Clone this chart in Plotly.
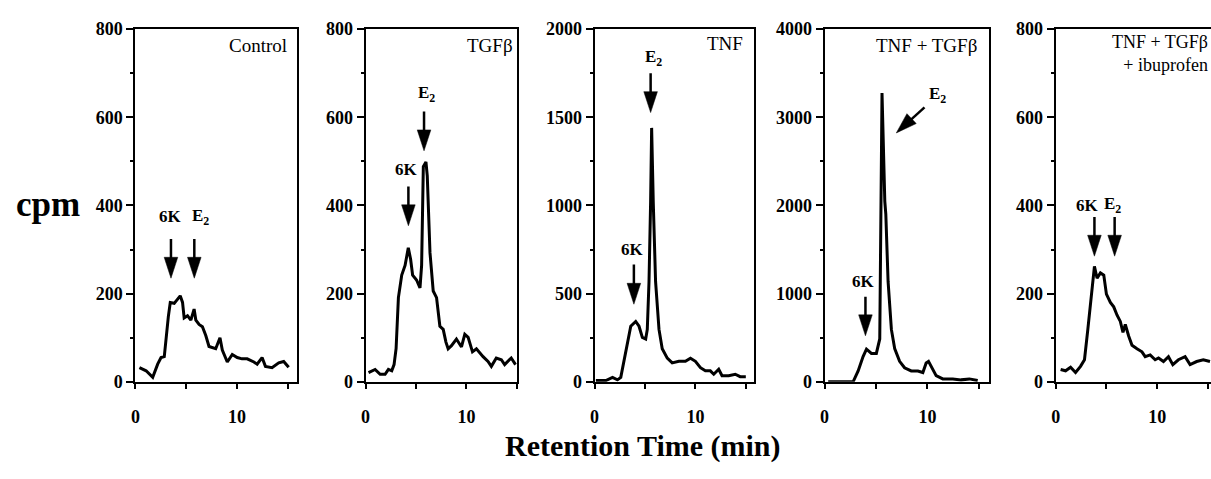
import plotly.graph_objects as go

# ---------------- data (retention time in min, radioactivity in cpm) ----------------
ctrl_t = [0.39, 1.05, 1.7, 2.19, 2.52, 2.84, 3.24, 3.43, 3.82, 4.05, 4.41, 4.64, 4.8, 5.13,
          5.46, 5.78, 5.95, 6.27, 6.6, 6.93, 7.25, 7.91, 8.33, 8.56, 9.05, 9.54, 10.03, 10.5,
          11.01, 11.67, 11.99, 12.48, 12.81, 13.46, 14.12, 14.61, 15.1]
ctrl_cpm = [32, 25, 10, 40, 55, 57, 148, 180, 178, 185, 195, 180, 145, 150,
            140, 165, 140, 130, 125, 105, 80, 75, 100, 72, 45, 62, 55, 52,
            52, 45, 40, 55, 35, 32, 43, 46, 33]

tgf_t = [0.3, 0.95, 1.45, 1.94, 2.27, 2.6, 2.83, 3.03, 3.26, 3.59, 3.92, 4.24, 4.47, 4.67,
         5.06, 5.4, 5.56, 5.73, 5.99, 6.12, 6.39, 6.71, 7.04, 7.37, 7.7, 7.97, 8.19, 8.52,
         9.01, 9.51, 9.84, 10.17, 10.6, 10.99, 11.65, 12.14, 12.47, 12.96, 13.46, 13.79,
         14.44, 14.87]
tgf_cpm = [21, 28, 17, 17, 28, 25, 39, 75, 191, 242, 264, 304, 278, 242,
           231, 213, 264, 488, 499, 467, 293, 206, 191, 126, 119, 90, 75, 82,
           97, 79, 108, 101, 68, 75, 57, 46, 35, 54, 50, 39,
           54, 39]

tnf_t = [0.13, 1.12, 1.78, 2.27, 2.6, 2.93, 3.26, 3.59, 4.08, 4.41, 4.74, 5.07, 5.23, 5.4,
         5.56, 5.66, 5.82, 6.05, 6.39, 6.71, 7.21, 7.7, 8.36, 9.01, 9.51, 10.0, 10.5, 10.99,
         11.48, 11.82, 12.31, 12.64, 13.3, 13.95, 14.44, 15.0]
tnf_cpm = [7, 7, 25, 11, 25, 116, 225, 315, 342, 315, 252, 243, 297, 569,
           1022, 1440, 1022, 569, 297, 188, 134, 107, 116, 116, 134, 116, 80, 62,
           62, 43, 71, 34, 34, 43, 29, 29]

combo_t = [0.35, 2.77, 3.26, 3.74, 4.07, 4.55, 5.03, 5.36, 5.58, 5.75, 5.85, 5.95, 6.17,
           6.49, 6.81, 7.29, 7.77, 8.42, 9.07, 9.55, 9.87, 10.1, 10.42, 10.84, 11.49, 12.46,
           13.26, 14.07, 14.88]
combo_cpm = [0, 0, 123, 286, 370, 322, 322, 486, 3275, 2300, 2050, 1900, 1138,
             594, 377, 232, 159, 123, 123, 105, 214, 232, 159, 69, 33, 33,
             22, 33, 14]

ibu_t = [0.49, 0.98, 1.47, 1.96, 2.45, 2.84, 3.17, 3.5, 3.82, 4.08, 4.41, 4.74, 5.0, 5.39,
         5.72, 6.05, 6.37, 6.63, 6.86, 7.19, 7.52, 8.01, 8.5, 8.82, 9.31, 9.8, 10.13, 10.62,
         11.11, 11.54, 12.09, 12.75, 13.24, 13.89, 14.54, 15.2]
ibu_cpm = [28, 25, 33, 21, 35, 50, 119, 191, 262, 235, 247, 242, 199, 180,
           170, 151, 137, 112, 130, 104, 83, 75, 68, 57, 61, 50, 54, 46,
           57, 39, 50, 57, 39, 46, 50, 46]

panel_titles = ["Control", "TGFβ", "TNF", "TNF + TGFβ", "TNF + TGFβ<br>+ ibuprofen"]
y_max = [800, 800, 2000, 4000, 800]
y_step = [200, 200, 500, 1000, 200]

# peak markers: (label, tail_x, tail_y, tip_x, tip_y, label_x, label_y)
peaks = [
    [("6K", 3.5, 324, 3.5, 235, 3.43, 374), ("E<sub>2</sub>", 5.8, 324, 5.8, 235, 5.35, 374)],
    [("6K", 4.25, 443, 4.25, 354, 4.02, 481), ("E<sub>2</sub>", 5.8, 613, 5.8, 524, 5.02, 652)],
    [("6K", 3.9, 665, 3.9, 440, 3.75, 750), ("E<sub>2</sub>", 5.56, 1750, 5.56, 1527, 4.85, 1837)],
    [("6K", 3.97, 965, 3.97, 522, 3.75, 1138), ("E<sub>2</sub>", 9.71, 3112, 6.97, 2823, 10.0, 3258)],
    [("6K", 3.82, 374, 3.82, 285, 3.1, 401), ("E<sub>2</sub>", 5.81, 374, 5.81, 285, 4.55, 401)],
]

series = [(ctrl_t, ctrl_cpm), (tgf_t, tgf_cpm), (tnf_t, tnf_cpm), (combo_t, combo_cpm), (ibu_t, ibu_cpm)]

# ---------------- layout geometry ----------------
W, H = 1211, 479
x_dom_px = [(131, 293), (362, 514), (592, 752), (823, 988), (1055, 1211)]
x_rng = [15.9, 15.0, 15.8, 15.97, 15.3]
y_dom = [1 - 388 / H, 1 - 20 / H]

FONT = "Liberation Serif"
fig = go.Figure()
layout = dict(
    width=W, height=H, margin=dict(l=0, r=0, t=0, b=0),
    paper_bgcolor="white", plot_bgcolor="white", showlegend=False,
    font=dict(family=FONT, color="black"),
)
annotations = []

title_pos = [(0.95, 0.99), (0.985, 0.988), (0.945, 0.995), (0.94, 0.99), (0.995, 0.997)]
title_size = [19, 19, 19, 19, 18]

for i in range(5):
    n = "" if i == 0 else str(i + 1)
    xa, ya = "x" + n, "y" + n
    t, c = series[i]
    fig.add_trace(go.Scatter(x=t, y=c, mode="lines", xaxis=xa, yaxis=ya,
                             line=dict(color="black", width=3), hoverinfo="skip"))
    for (lab, tx, ty, hx, hy, lx, ly) in peaks[i]:
        fig.add_trace(go.Scatter(
            x=[tx, hx], y=[ty, hy], mode="lines+markers", xaxis=xa, yaxis=ya,
            opacity=1,
            line=dict(color="black", width=2.5, backoff=9),
            marker=dict(symbol="arrow", size=[0, 22], angleref="previous", color="#000000",
                        opacity=1, line=dict(width=0.5, color="#000000")),
            hoverinfo="skip"))
        annotations.append(dict(x=lx, y=ly, xref=xa, yref=ya, text="<b>%s</b>" % lab,
                                showarrow=False, xanchor="center" if lab == "6K" else "left",
                                yanchor="middle", font=dict(size=17, family=FONT)))
    d0, d1 = x_dom_px[i]
    layout["xaxis" + n] = dict(
        domain=[d0 / W, d1 / W], range=[0, x_rng[i]], anchor=ya,
        showline=True, linewidth=2, linecolor="black", mirror=True,
        ticks="outside", ticklen=5, tickwidth=2, tickcolor="black",
        tick0=0, dtick=10, ticklabelstandoff=13,
        minor=dict(ticks="outside", ticklen=5, tickwidth=2, tickcolor="black",
                   dtick=5, showgrid=False),
        tickfont=dict(size=18, family=FONT, weight="bold"),
        showgrid=False, zeroline=False, fixedrange=True,
    )
    layout["yaxis" + n] = dict(
        domain=y_dom, range=[0, y_max[i]], anchor=xa,
        showline=True, linewidth=2, linecolor="black", mirror=(i < 4),
        ticks="outside", ticklen=7, tickwidth=2, tickcolor="black",
        tick0=0, dtick=y_step[i],
        minor=dict(ticks="outside", ticklen=3, tickwidth=2, tickcolor="black",
                   dtick=y_step[i] / 2, showgrid=False),
        tickfont=dict(size=18, family=FONT, weight="bold"),
        showgrid=False, zeroline=False, fixedrange=True,
    )
    tx_, ty_ = title_pos[i]
    annotations.append(dict(x=tx_, y=ty_, xref=xa + " domain", yref=ya + " domain",
                            text=panel_titles[i], showarrow=False, xanchor="right",
                            yanchor="top", align="right",
                            font=dict(size=title_size[i], family=FONT)))

annotations.append(dict(x=43.5 / W, y=1 - 203 / H, xref="paper", yref="paper",
                        text="<b>cpm</b>", showarrow=False, xanchor="center", yanchor="middle",
                        font=dict(size=35, family=FONT)))
annotations.append(dict(x=641 / W, y=1 - 455 / H, xref="paper", yref="paper",
                        text="<b>Retention Time (min)</b>", showarrow=False,
                        xanchor="center", yanchor="middle", font=dict(size=30, family=FONT)))
layout["annotations"] = annotations
fig.update_layout(**layout)

fig.write_html("out.html", config={"displayModeBar": False},
               post_script="document.body.style.margin='0';")
